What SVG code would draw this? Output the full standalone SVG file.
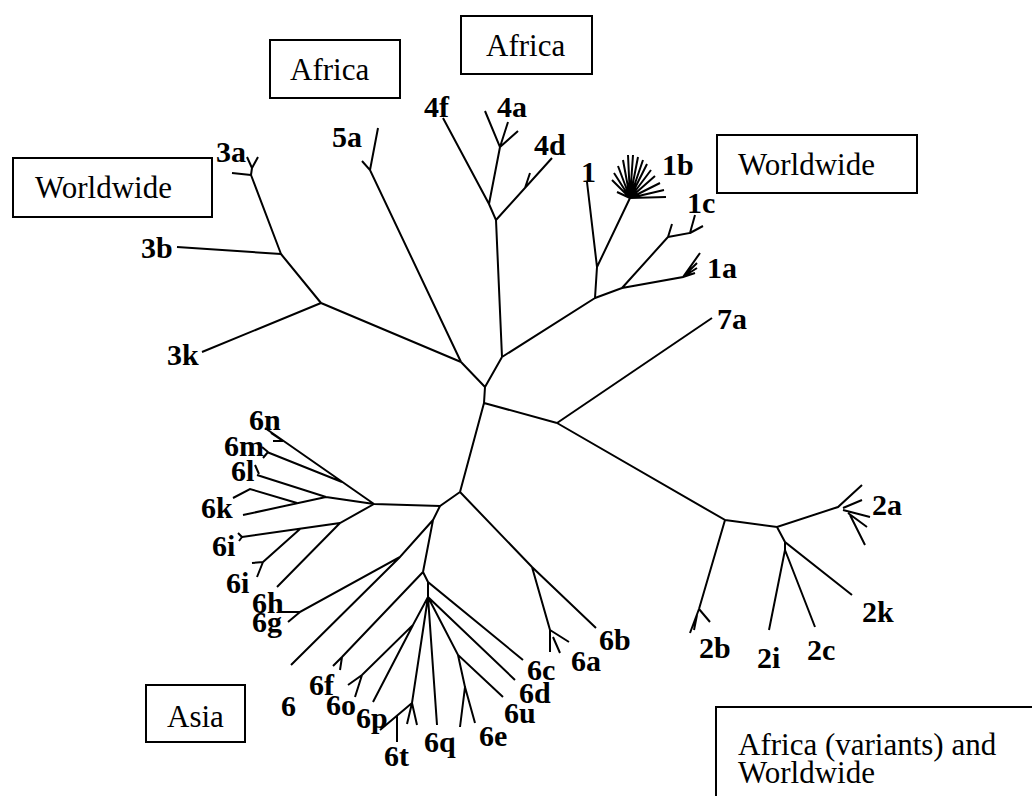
<svg xmlns="http://www.w3.org/2000/svg" width="1032" height="796" viewBox="0 0 1032 796">
<style>
.br{fill:none;stroke:#000;stroke-width:2;stroke-linecap:butt;stroke-linejoin:miter}
.box{fill:#fff;stroke:#000;stroke-width:2}
.lb{font-family:"Liberation Serif","Times New Roman",serif;font-weight:bold;font-size:30px;fill:#000}
.bt{font-family:"Liberation Serif","Times New Roman",serif;font-size:31px;fill:#000}
</style>
<rect width="1032" height="796" fill="#fff"/>
<g id="connectors" class="br">
<path d="M485,387 L484,403 M461,362 L485,387 M502,357 L485,387 M484,403 L557,423 M484,403 L460,492"/>
<path d="M461,362 L321,303 M321,303 L202,352 M321,303 L281,254 M281,254 L177,247 M281,254 L251,175 M251,175 L232,173 M251,175 L252,168 L247,157 M252,168 L258,157"/>
<path d="M461,362 L370,170 L362,161 M370,170 L378,128"/>
<path d="M502,357 L496,220 L489,204 L443,118 M489,204 L500,147 L485,111 M500,147 L508,122 M500,147 L518,131 M496,220 L552,158 M525,188 L530,173"/>
<path d="M502,357 L595,298 L597,267 L587,182 M597,267 L630,198"/>
<path d="M630,198 L617,192 M630,198 L612,180 M630,198 L614,173 M630,198 L618,166 M630,198 L623,160 M630,198 L628,155 M630,198 L633,155 M630,198 L638,157 M630,198 L643,160 M630,198 L647,164 M630,198 L651,170 M630,198 L655,176 M630,198 L660,183 M630,198 L664,190 M630,198 L666,197"/>
<path d="M595,298 L622,288 L683,277 L700,253 M683,277 L697,263 M683,277 L697,268 M683,277 L695,273 M622,288 L668,237 L672,224 M668,237 L690,233 L695,215 M690,233 L703,226"/>
<path d="M557,423 L712,318"/>
<path d="M557,423 L725,520 L699,609 L690,633 M699,609 L710,622 M697,615 L694,630 M725,520 L777,527 L838,507 L862,485 M843,508 L862,500 M843,510 L870,517 M848,513 L867,527 M850,515 L865,545 M777,527 L785,542 L852,595 M785,542 L785,550 L769,630 M785,550 L815,627"/>
<path d="M460,492 L440,506 L374,504 M374,504 L265,428 M283,441 L271,433 M283,441 L273,441 M342,482 L267,452 M268,452 L262,447 M268,452 L263,458 M374,504 L326,497 L257,475 M259,474 L255,465 M326,497 L243,515 M297,503 L250,489 L233,498"/>
<path d="M374,504 L340,523 L242,537 M242,537 L238,533 M242,537 L239,541 M300,529 L263,562 L252,563 M263,562 L257,577 M340,523 L277,587"/>
<path d="M440,506 L433,520 L423,572 M433,520 L400,557 L300,612 L280,612 M300,612 L288,622 M400,557 L291,665"/>
<path d="M423,572 L342,657 L333,666 M342,657 L340,670 M423,572 L428,582 L523,660 M428,582 L428,597 L413,625 L362,675 L348,685 M362,675 L355,697 M413,625 L373,702 M428,597 L412,703 L380,730 M412,703 L407,724 M412,703 L417,725 M397,716 L397,742 M428,597 L437,725 M428,597 L458,655 L503,697 M458,655 L465,687 L460,727 M465,687 L475,723 M428,597 L515,680"/>
<path d="M460,492 L532,567 L596,628 M532,567 L550,630 L550,652 M550,630 L569,642 M553,637 L560,653"/>
</g>
<g id="box-worldwide-left"><rect class="box" x="13" y="158" width="199" height="59"/><text class="bt" x="35" y="198">Worldwide</text></g>
<g id="box-africa-left"><rect class="box" x="270" y="40" width="130" height="58"/><text class="bt" x="290" y="80">Africa</text></g>
<g id="box-africa-top"><rect class="box" x="461" y="16" width="131" height="58"/><text class="bt" x="486" y="56">Africa</text></g>
<g id="box-worldwide-right"><rect class="box" x="717" y="135" width="200" height="58"/><text class="bt" x="738" y="175">Worldwide</text></g>
<g id="box-asia"><rect class="box" x="146" y="685" width="99" height="57"/><text class="bt" x="167" y="727">Asia</text></g>
<g id="box-africa-variants"><rect class="box" x="716" y="707" width="330" height="100"/><text class="bt" x="738" y="755">Africa (variants) and</text><text class="bt" x="738" y="783">Worldwide</text></g>
<g id="labels" class="lb">
<text id="n3a" x="216" y="162">3a</text>
<text id="n3b" x="141" y="258">3b</text>
<text id="n3k" x="167" y="365">3k</text>
<text id="n5a" x="332" y="147">5a</text>
<text id="n4f" x="424" y="117">4f</text>
<text id="n4a" x="497" y="117">4a</text>
<text id="n4d" x="534" y="155">4d</text>
<text id="n1" x="581" y="182">1</text>
<text id="n1b" x="662" y="175">1b</text>
<text id="n1c" x="687" y="213">1c</text>
<text id="n1a" x="707" y="278">1a</text>
<text id="n7a" x="717" y="329">7a</text>
<text id="n2a" x="872" y="515">2a</text>
<text id="n2k" x="862" y="622">2k</text>
<text id="n2b" x="699" y="658">2b</text>
<text id="n2i" x="757" y="668">2i</text>
<text id="n2c" x="807" y="660">2c</text>
<text id="n6n" x="249" y="430">6n</text>
<text id="n6m" x="224" y="456">6m</text>
<text id="n6l" x="231" y="481">6l</text>
<text id="n6k" x="201" y="518">6k</text>
<text id="n6i1" x="212" y="556">6i</text>
<text id="n6i2" x="226" y="593">6i</text>
<text id="n6h" x="252" y="613">6h</text>
<text id="n6g" x="252" y="632">6g</text>
<text id="n6" x="281" y="716">6</text>
<text id="n6f" x="309" y="695">6f</text>
<text id="n6o" x="326" y="715">6o</text>
<text id="n6p" x="356" y="728">6p</text>
<text id="n6t" x="384" y="766">6t</text>
<text id="n6q" x="424" y="752">6q</text>
<text id="n6e" x="479" y="746">6e</text>
<text id="n6u" x="504" y="723">6u</text>
<text id="n6d" x="519" y="703">6d</text>
<text id="n6c" x="527" y="680">6c</text>
<text id="n6a" x="571" y="671">6a</text>
<text id="n6b" x="599" y="650">6b</text>
</g>
</svg>
